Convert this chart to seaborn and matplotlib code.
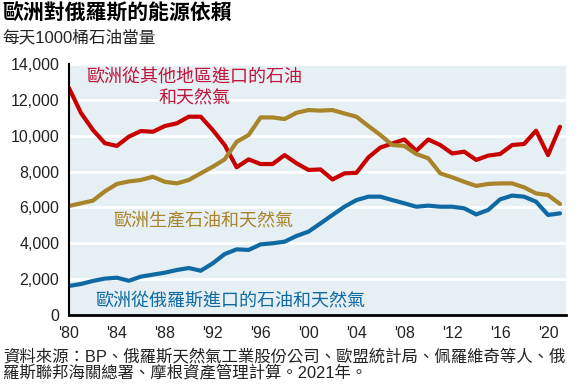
import numpy as np
import pandas as pd
import matplotlib
matplotlib.use('Agg')
import matplotlib.pyplot as plt
import matplotlib.ticker as mticker
import seaborn as sns

# data (thousand barrels of oil equivalent per day)
years = list(range(1980, 2022))
other_imports = [12660, 11270, 10320, 9580, 9430, 9950, 10260, 10220, 10540, 10690,
                 11060, 11060, 10320, 9480, 8240, 8680, 8420, 8420, 8920, 8460,
                 8090, 8120, 7560, 7900, 7930, 8790, 9340, 9570, 9790, 9160,
                 9790, 9480, 9010, 9110, 8650, 8890, 8980, 9480, 9540, 10280,
                 8920, 10500]
production = [6080, 6230, 6380, 6900, 7310, 7450, 7530, 7710, 7430, 7340,
              7530, 7900, 8270, 8680, 9660, 10040, 11020, 11020, 10930, 11280,
              11430, 11400, 11430, 11240, 11060, 10540, 10040, 9480, 9430, 8980,
              8740, 7900, 7680, 7430, 7200, 7310, 7340, 7340, 7120, 6780,
              6690, 6190]
russia_imports = [1620, 1730, 1900, 2030, 2080, 1910, 2140, 2250, 2360, 2510,
                  2620, 2470, 2880, 3400, 3660, 3630, 3940, 4000, 4090, 4410,
                  4650, 5110, 5580, 6040, 6410, 6600, 6600, 6410, 6230, 6040,
                  6100, 6040, 6040, 5950, 5610, 5860, 6450, 6660, 6600, 6320,
                  5580, 5670]

series_names = ['歐洲從其他地區進口的石油\n和天然氣', '歐洲生產石油和天然氣', '歐洲從俄羅斯進口的石油和天然氣']
colors = ['#c80000', '#a8842a', '#0f6aa3']
text_colors = ['#c0143c', '#a8842a', '#0f6aa3']

df = pd.DataFrame({
    'year': years * 3,
    'value': other_imports + production + russia_imports,
    'series': [series_names[0]] * len(years) + [series_names[1]] * len(years) + [series_names[2]] * len(years),
})

sns.set_style('white', {'axes.facecolor': '#e6eff3'})
plt.rcParams['font.family'] = ['Liberation Sans', 'Noto Sans CJK TC']

fig = plt.figure(figsize=(5.83, 3.89), dpi=100)
ax = fig.add_axes([69 / 583, 1 - 315 / 389, (566 - 69) / 583, (315 - 64) / 389])

sns.lineplot(data=df, x='year', y='value', hue='series', palette=colors,
             linewidth=3.0, legend=False, ax=ax)

ax.set_xlim(1980, 2021.5)
ax.set_ylim(0, 14000)
ax.set_xticks(range(1980, 2021, 4))
ax.set_xticklabels([f"'{y % 100:02d}" for y in range(1980, 2021, 4)])
ax.set_yticks(range(0, 14001, 2000))
ax.yaxis.set_major_formatter(mticker.FuncFormatter(lambda v, p: f'{int(v):,}'))
ax.grid(axis='y', color='white', linewidth=2)
ax.set_axisbelow(True)
ax.set_xlabel('')
ax.set_ylabel('')
for s in ['top', 'right']:
    ax.spines[s].set_visible(False)
ax.spines['left'].set_color('black')
ax.spines['left'].set_linewidth(1.5)
ax.spines['bottom'].set_color('black')
ax.spines['bottom'].set_linewidth(2)
ax.tick_params(axis='both', direction='out', length=5, width=1.5, color='black',
               labelsize=11.5, labelcolor='#222222', pad=2)
ax.tick_params(axis='x', pad=3)

# line labels
ax.text(1990.5, 12660, series_names[0], color=text_colors[0], fontsize=13,
        ha='center', va='center', linespacing=1.3)
ax.text(1991.2, 5200, series_names[1], color=text_colors[1], fontsize=13,
        ha='center', va='center')
ax.text(1993.5, 800, series_names[2], color=text_colors[2], fontsize=13,
        ha='center', va='center')

fig.text(2 / 583, 1 - 13 / 389, '歐洲對俄羅斯的能源依賴', fontsize=15, fontweight='bold',
         ha='left', va='center', color='black')
fig.text(2 / 583, 1 - 38 / 389, '每天1000桶石油當量', fontsize=12,
         ha='left', va='center', color='#222222')
fig.text(3 / 583, 1 - 365 / 389,
         '資料來源：BP、俄羅斯天然氣工業股份公司、歐盟統計局、佩羅維奇等人、俄\n'
         '羅斯聯邦海關總署、摩根資產管理計算。2021年。',
         fontsize=11.8, ha='left', va='center', color='#222222', linespacing=1.1)

fig.savefig('out.png', dpi=100)
